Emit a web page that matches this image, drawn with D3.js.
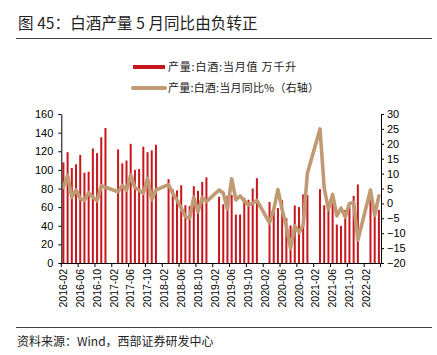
<!DOCTYPE html>
<html><head><meta charset="utf-8">
<script src="https://cdn.jsdelivr.net/npm/d3@7"></script>
<style>
html,body{margin:0;padding:0;background:#fff;}
svg{display:block;}
</style></head>
<body>
<svg id="c" width="437" height="355"></svg>
<script>
const title = "图 45：白酒产量 5 月同比由负转正";
const source = "资料来源：Wind，西部证券研发中心";
const legendBar = "产量:白酒:当月值 万千升";
const legendLine = "产量:白酒:当月同比%（右轴）";

const months = [
 "2016-02","2016-03","2016-04","2016-05","2016-06","2016-07","2016-08","2016-09","2016-10","2016-11","2016-12",
 "2017-01","2017-02","2017-03","2017-04","2017-05","2017-06","2017-07","2017-08","2017-09","2017-10","2017-11","2017-12",
 "2018-01","2018-02","2018-03","2018-04","2018-05","2018-06","2018-07","2018-08","2018-09","2018-10","2018-11","2018-12",
 "2019-01","2019-02","2019-03","2019-04","2019-05","2019-06","2019-07","2019-08","2019-09","2019-10","2019-11","2019-12",
 "2020-01","2020-02","2020-03","2020-04","2020-05","2020-06","2020-07","2020-08","2020-09","2020-10","2020-11","2020-12",
 "2021-01","2021-02","2021-03","2021-04","2021-05","2021-06","2021-07","2021-08","2021-09","2021-10","2021-11","2021-12",
 "2022-01","2022-02","2022-03","2022-04","2022-05"
];
// 当月值 万千升 (null = no data)
const output = [
 108,119,102,106,116,97,98,123,118,135,145,
 null,null,122,107,110,128,100,101,125,119,121,127,
 null,null,90,79,78,83.5,62,61,82.5,77.5,87,92,
 null,null,71,63,72,73,52,52,70,68,80,91,
 null,null,65.5,58,59,67.3,48,40.4,61.8,60,73.6,73,
 null,null,79.3,62,57,64,41.3,39.7,57,60.5,72,84.3,
 null,null,68,51,57
];
// 当月同比 %
const yoy = [
 5.4,9.4,2.0,4.5,1.6,1.0,3.6,2.1,0.9,5.9,5.4,
 null,null,3.9,6.0,4.4,9.5,5.3,4.4,3.4,8.4,1.2,4.5,
 null,null,6.3,3.3,1.2,-1.6,-4.5,-5.0,2.0,-2.8,2.0,0.6,
 null,null,4.5,3.5,-2.0,8.3,1.2,2.5,0.8,-0.5,0.0,1.0,
 null,null,-6.5,-2.0,4.6,-2.1,-7.8,-15.1,-7.5,-9.8,-7.2,10.1,
 null,null,25.0,5.2,-2.0,3.0,-4.2,-1.6,-4.6,0.0,0.3,-12.3,
 null,null,4.5,-4.0,2.5
];
const leftTicks = [0,20,40,60,80,100,120,140,160];
const rightTicks = [-20,-15,-10,-5,0,5,10,15,20,25,30];
const xLabels = ["2016-02","2016-06","2016-10","2017-02","2017-06","2017-10","2018-02","2018-06","2018-10",
 "2019-02","2019-06","2019-10","2020-02","2020-06","2020-10","2021-02","2021-06","2021-10","2022-02"];

const barColor = "#c8161d";
const lineColor = "#bf9a72";
const axisColor = "#000";
const font = "'Liberation Sans', Arial, sans-serif";
const cjk = "'Noto Sans CJK SC', 'Noto Sans', sans-serif";

const svg = d3.select("#c");
const L = 61.3, R = 381, T = 114, B = 263;

const x = d3.scaleBand().domain(months).range([L, R]).padding(0);
const yL = d3.scaleLinear().domain([0,160]).range([B, T]);
const yR = d3.scaleLinear().domain([-20,30]).range([B, T]);

// title & rules
svg.append("text").attr("x",18).attr("y",29).attr("font-family",cjk).attr("font-size",15.5)
  .attr("fill","#222").attr("letter-spacing",0.1).text(title);
svg.append("line").attr("x1",16).attr("x2",432).attr("y1",38.5).attr("y2",38.5).attr("stroke","#444").attr("stroke-width",1.2);
svg.append("line").attr("x1",16).attr("x2",432).attr("y1",327.5).attr("y2",327.5).attr("stroke","#444").attr("stroke-width",1.2);
svg.append("text").attr("x",17).attr("y",346).attr("font-family",cjk).attr("font-size",12)
  .attr("fill","#222").text(source);

// legend
const lg = svg.append("g");
lg.append("rect").attr("x",133).attr("y",65).attr("width",32).attr("height",4).attr("fill",barColor);
lg.append("text").attr("x",168).attr("y",67).attr("dy","0.35em").attr("font-family",cjk).attr("font-size",11)
  .attr("fill","#222").attr("letter-spacing",0.8).text(legendBar);
lg.append("line").attr("x1",133).attr("x2",165).attr("y1",88).attr("y2",88).attr("stroke",lineColor)
  .attr("stroke-width",4).attr("stroke-linecap","round");
lg.append("text").attr("x",168).attr("y",88).attr("dy","0.35em").attr("font-family",cjk).attr("font-size",11)
  .attr("fill","#222").attr("letter-spacing",0.2).text(legendLine);

// bars
const barData = months.map((m,i)=>({m, v: output[i]})).filter(d=>d.v!==null);
const bw = 2;
svg.append("g").selectAll("rect").data(barData).join("rect")
  .attr("x", d => x(d.m) + x.bandwidth()/2 - bw/2)
  .attr("width", bw)
  .attr("y", d => yL(d.v))
  .attr("height", d => yL(0) - yL(d.v))
  .attr("fill", barColor);

// line
const lineData = months.map((m,i)=>({m, v: yoy[i]})).filter(d=>d.v!==null);
svg.append("path").datum(lineData)
  .attr("fill","none").attr("stroke",lineColor).attr("stroke-width",3.6)
  .attr("stroke-linejoin","round").attr("stroke-linecap","round")
  .attr("d", d3.line().x(d=>x(d.m)+x.bandwidth()/2).y(d=>yR(d.v)));

// left axis
const gl = svg.append("g").attr("transform",`translate(${L},0)`)
  .call(d3.axisLeft(yL).tickValues(leftTicks).tickSize(3).tickPadding(5).tickSizeOuter(0));
gl.selectAll("text").attr("font-family",font).attr("font-size",11).attr("fill","#000");
gl.selectAll("line,path").attr("stroke",axisColor);

// right axis
const gr = svg.append("g").attr("transform",`translate(${R},0)`)
  .call(d3.axisRight(yR).tickValues(rightTicks).tickSize(3).tickPadding(3).tickSizeOuter(0));
gr.selectAll("text").attr("font-family",font).attr("font-size",11).attr("fill","#000");
gr.selectAll("line,path").attr("stroke",axisColor);

// bottom axis
const gb = svg.append("g");
gb.append("line").attr("x1",L).attr("x2",R).attr("y1",B+0.5).attr("y2",B+0.5).attr("stroke",axisColor);
gb.selectAll("line.tk").data(xLabels).join("line").attr("class","tk")
  .attr("x1",d=>x(d)).attr("x2",d=>x(d)).attr("y1",B).attr("y2",B+4).attr("stroke",axisColor);
gb.append("line").attr("x1",R-0.5).attr("x2",R-0.5).attr("y1",B).attr("y2",B+4).attr("stroke",axisColor);
gb.selectAll("text").data(xLabels).join("text")
  .attr("transform",d=>`translate(${x(d)+x.bandwidth()/2},${B+6}) rotate(-90)`)
  .attr("text-anchor","end").attr("dy","0.35em")
  .attr("font-family",font).attr("font-size",10.5).attr("fill","#000").text(d=>d);
</script>
</body></html>
